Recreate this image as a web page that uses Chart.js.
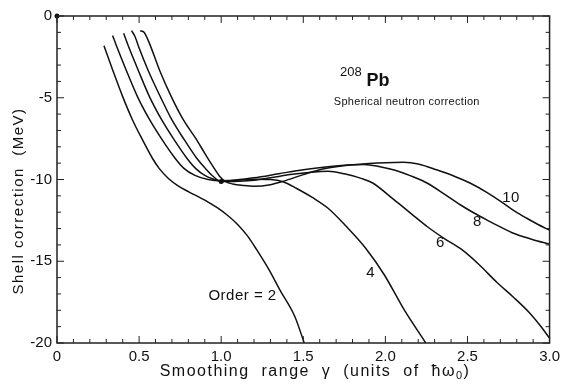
<!DOCTYPE html>
<html>
<head>
<meta charset="utf-8">
<script src="https://cdn.jsdelivr.net/npm/chart.js@4"></script>
<style>
  html, body { margin: 0; padding: 0; background: #fff; }
  #wrap { width: 565px; height: 385px; }
</style>
</head>
<body>
<div id="wrap"><canvas id="shellChart" width="565" height="385"></canvas></div>
<script>
// smoothing range gamma (units of hbar omega_0) and shell correction (MeV)
var gamma2 = [0.286, 0.339, 0.40, 0.46, 0.521, 0.581, 0.622, 0.68, 0.74, 0.80, 0.86, 0.92, 0.98, 1.04, 1.10, 1.16, 1.217, 1.29, 1.358, 1.449, 1.506];
var shell2 = [-1.82, -3.3, -4.93, -6.36, -7.58, -8.7, -9.32, -9.95, -10.4, -10.74, -11.05, -11.38, -11.75, -12.2, -12.75, -13.45, -14.31, -15.5, -16.76, -18.39, -20.0];

var gamma4 = [0.339, 0.362, 0.421, 0.49, 0.565, 0.641, 0.719, 0.773, 0.84, 0.92, 1.0, 1.1, 1.2, 1.3, 1.38, 1.46, 1.56, 1.651, 1.76, 1.88, 1.994, 2.115, 2.246];
var shell4 = [-1.2, -1.82, -3.3, -4.93, -6.36, -7.58, -8.7, -9.32, -9.75, -10.0, -10.08, -10.05, -9.98, -10.0, -10.15, -10.55, -11.13, -11.76, -12.85, -14.2, -15.84, -17.98, -20.0];

var gamma6 = [0.406, 0.434, 0.494, 0.563, 0.638, 0.714, 0.791, 0.844, 0.9, 0.96, 1.0, 1.08, 1.2, 1.3, 1.42, 1.55, 1.651, 1.75, 1.852, 1.92, 2.054, 2.155, 2.256, 2.357, 2.468, 2.57, 2.68, 2.78, 2.88, 2.94, 3.0];
var shell6 = [-1.06, -1.82, -3.3, -4.93, -6.36, -7.58, -8.7, -9.32, -9.75, -10.0, -10.12, -10.12, -10.05, -9.9, -9.7, -9.55, -9.5, -9.65, -9.93, -10.2, -11.25, -12.07, -12.89, -13.6, -14.31, -15.2, -16.3, -17.2, -18.18, -18.9, -19.7];

var gamma8 = [0.454, 0.475, 0.495, 0.554, 0.629, 0.70, 0.776, 0.851, 0.904, 0.95, 1.0, 1.076, 1.2, 1.35, 1.5, 1.65, 1.77, 1.87, 1.96, 2.054, 2.155, 2.256, 2.357, 2.458, 2.54, 2.619, 2.70, 2.78, 2.89, 3.0];
var shell8 = [-0.9, -1.25, -1.82, -3.3, -4.93, -6.36, -7.58, -8.7, -9.32, -9.8, -10.12, -10.05, -9.9, -9.65, -9.4, -9.22, -9.12, -9.08, -9.2, -9.42, -9.78, -10.23, -10.88, -11.56, -12.05, -12.48, -12.9, -13.29, -13.65, -13.96];

var gamma10 = [0.507, 0.53, 0.56, 0.624, 0.696, 0.77, 0.846, 0.90, 0.95, 0.99, 1.03, 1.07, 1.13, 1.2, 1.3, 1.38, 1.5, 1.6, 1.7, 1.8, 1.9, 2.0, 2.11, 2.2, 2.316, 2.42, 2.518, 2.62, 2.72, 2.79, 2.861, 2.93, 3.0];
var shell10 = [-0.9, -1.0, -1.6, -3.3, -4.93, -6.36, -7.5, -8.4, -9.2, -9.8, -10.15, -10.27, -10.36, -10.42, -10.32, -10.1, -9.7, -9.4, -9.22, -9.1, -9.02, -8.97, -8.95, -9.05, -9.42, -9.8, -10.23, -10.8, -11.46, -11.95, -12.37, -12.75, -13.1];

// marked points on the figure
var dotGamma = [0, 1.0];
var dotShell = [0, -10.12];

var xTickLabels = ["0", "0.5", "1.0", "1.5", "2.0", "2.5", "3.0"];
var yTickLabels = ["0", "-5", "-10", "-15", "-20"];

var FONT = "'Liberation Sans', Arial, sans-serif";

function toPoints(xs, ys) {
  return xs.map(function (v, i) { return { x: v, y: ys[i] }; });
}

function curve(xs, ys) {
  return {
    data: toPoints(xs, ys),
    borderColor: "#111",
    borderWidth: 1.5,
    pointRadius: 0,
    fill: false,
    cubicInterpolationMode: "monotone"
  };
}

function near(v, step) {
  return Math.abs(v / step - Math.round(v / step)) < 1e-6;
}

// inward ticks on all four sides plus the frame
var frameTicks = {
  id: "frameTicks",
  afterDraw: function (chart) {
    var ctx = chart.ctx;
    var a = chart.chartArea;
    var xs = chart.scales.x, ys = chart.scales.y;
    ctx.save();
    ctx.strokeStyle = "#222";
    ctx.lineWidth = 1.5;
    ctx.strokeRect(a.left, a.top, a.right - a.left, a.bottom - a.top);
    ctx.lineWidth = 1;
    xs.ticks.forEach(function (t) {
      var px = xs.getPixelForValue(t.value);
      var len = near(t.value, 0.5) ? 7 : 4;
      ctx.beginPath();
      ctx.moveTo(px, a.bottom); ctx.lineTo(px, a.bottom - len);
      ctx.moveTo(px, a.top); ctx.lineTo(px, a.top + len);
      ctx.stroke();
    });
    ys.ticks.forEach(function (t) {
      var py = ys.getPixelForValue(t.value);
      var len = near(t.value, 5) ? 7 : 4;
      ctx.beginPath();
      ctx.moveTo(a.left, py); ctx.lineTo(a.left + len, py);
      ctx.moveTo(a.right, py); ctx.lineTo(a.right - len, py);
      ctx.stroke();
    });
    ctx.restore();
  }
};

// titles and curve labels
var labels = {
  id: "labels",
  afterDraw: function (chart) {
    var ctx = chart.ctx;
    var xs = chart.scales.x, ys = chart.scales.y;
    function at(gx, sy) { return [xs.getPixelForValue(gx), ys.getPixelForValue(sy)]; }
    ctx.save();
    ctx.fillStyle = "#111";
    ctx.textAlign = "center";
    ctx.textBaseline = "middle";

    ctx.font = "15px " + FONT;
    ctx.letterSpacing = "0.5px";
    var p = at(1.13, -17.1); ctx.fillText("Order = 2", p[0], p[1]);
    p = at(1.91, -15.7); ctx.fillText("4", p[0], p[1]);
    p = at(2.335, -13.9); ctx.fillText("6", p[0], p[1]);
    p = at(2.56, -12.6); ctx.fillText("8", p[0], p[1]);
    p = at(2.765, -11.1); ctx.fillText("10", p[0], p[1]);

    ctx.letterSpacing = "0px";
    ctx.font = "13px " + FONT;
    p = at(1.79, -3.45); ctx.fillText("208", p[0], p[1]);
    ctx.font = "bold 18px " + FONT;
    p = at(1.955, -3.95); ctx.fillText("Pb", p[0], p[1]);
    ctx.font = "11px " + FONT;
    ctx.letterSpacing = "0.3px";
    p = at(2.13, -5.25); ctx.fillText("Spherical neutron correction", p[0], p[1]);

    // y axis title
    ctx.font = "15px " + FONT;
    ctx.letterSpacing = "1.5px";
    ctx.save();
    ctx.translate(19, 201);
    ctx.rotate(-Math.PI / 2);
    ctx.fillText("Shell correction  (MeV)", 0, 0);
    ctx.restore();

    // x axis title with subscript
    ctx.textAlign = "left";
    ctx.letterSpacing = "1.5px";
    var parts = [["Smoothing  range  \u03b3  (units  of  \u0127\u03c9", 16, 0], ["0", 11, 4], [")", 16, 0]];
    var total = 0;
    parts.forEach(function (q) { ctx.font = q[1] + "px " + FONT; total += ctx.measureText(q[0]).width; });
    var cx = 315 - total / 2;
    parts.forEach(function (q) {
      ctx.font = q[1] + "px " + FONT;
      ctx.fillText(q[0], cx, 372 + q[2]);
      cx += ctx.measureText(q[0]).width;
    });
    ctx.restore();
  }
};

var ctxShell = document.getElementById("shellChart").getContext("2d");

new Chart(ctxShell, {
  type: "line",
  data: {
    datasets: [
      curve(gamma2, shell2),
      curve(gamma4, shell4),
      curve(gamma6, shell6),
      curve(gamma8, shell8),
      curve(gamma10, shell10),
      {
        data: toPoints(dotGamma, dotShell),
        showLine: false,
        pointRadius: 2.5,
        pointBackgroundColor: "#111",
        pointBorderWidth: 0,
        clip: false
      }
    ]
  },
  options: {
    responsive: false,
    animation: false,
    layout: { padding: { top: 16, right: 12, left: 0, bottom: 0 } },
    plugins: { legend: { display: false }, tooltip: { enabled: false } },
    scales: {
      x: {
        type: "linear",
        min: 0,
        max: 3,
        grid: { drawOnChartArea: false, drawTicks: false },
        border: { display: false },
        ticks: {
          stepSize: 0.1,
          autoSkip: false,
          maxRotation: 0,
          padding: 5,
          color: "#111",
          font: { size: 15, family: FONT },
          callback: function (v) {
            return near(v, 0.5) ? xTickLabels[Math.round(v * 2)] : "";
          }
        },
        afterFit: function (scale) { scale.height = 42; }
      },
      y: {
        min: -20,
        max: 0,
        grid: { drawOnChartArea: false, drawTicks: false },
        border: { display: false },
        ticks: {
          stepSize: 1,
          autoSkip: false,
          padding: 5,
          color: "#111",
          font: { size: 15, family: FONT },
          callback: function (v) {
            return near(v, 5) ? yTickLabels[Math.round(-v / 5)] : "";
          }
        },
        afterFit: function (scale) { scale.width = 57; }
      }
    }
  },
  plugins: [frameTicks, labels]
});
</script>
</body>
</html>
